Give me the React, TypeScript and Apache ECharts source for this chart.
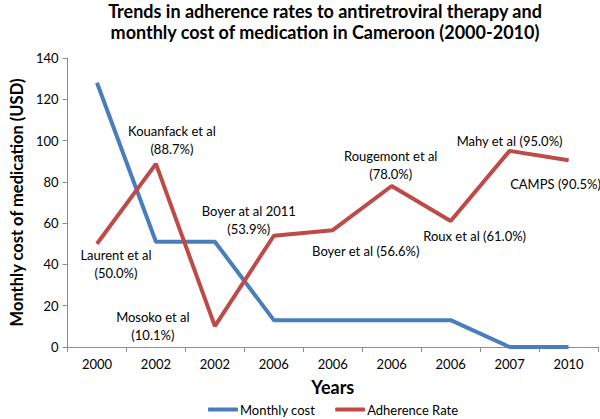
import React, { useEffect, useRef } from "react";
import * as echarts from "echarts";

const titleText =
  "Trends in adherence rates to antiretroviral therapy and\nmonthly cost of medication in Cameroon (2000-2010)";
const years = ["2000", "2002", "2002", "2006", "2006", "2006", "2006", "2007", "2010"];
const monthlyCost = [128, 51, 51, 13, 13, 13, 13, 0, 0];
const adherenceRate = [50.0, 88.7, 10.1, 53.9, 56.6, 78.0, 61.0, 95.0, 90.5];
const studyNames = [
  "Laurent et al",
  "Kouanfack et al",
  "Mosoko et al",
  "Boyer at al 2011",
  "Boyer et al",
  "Rougemont et al",
  "Roux et al",
  "Mahy et al",
  "CAMPS",
];
const twoLineLabel = [true, true, true, true, false, true, false, false, false];
const labelOffsets = [
  [19, 20],
  [16, -24],
  [-62, 0],
  [-25, -16],
  [33, 21],
  [-1, -21],
  [24, 15],
  [0, -10],
  [-13, 24],
];
const yMin = 0;
const yMax = 140;
const yInterval = 20;

const FONT = "Lato, 'Noto Sans', sans-serif";
const BLUE = "#4A7EBB";
const RED = "#BE4B48";
const AXIS_COLOR = "#8c8c8c";

export default function App() {
  const ref = useRef<HTMLDivElement>(null);

  useEffect(() => {
    document.body.style.margin = "0";
    if (!ref.current) return;
    const chart = echarts.init(ref.current, undefined, { renderer: "svg" });

    const adherenceData = adherenceRate.map((v, i) => ({
      value: v,
      label: {
        show: true,
        position: "inside",
        offset: labelOffsets[i],
        formatter: twoLineLabel[i]
          ? `${studyNames[i]}\n(${v.toFixed(1)}%)`
          : `${studyNames[i]} (${v.toFixed(1)}%)`,
      },
    }));

    chart.setOption({
      animation: false,
      backgroundColor: "#ffffff",
      textStyle: { fontFamily: FONT },
      title: {
        text: titleText,
        left: 325,
        top: 0,
        padding: [0, 0, 0, 0],
        textAlign: "center",
        textStyle: {
          fontFamily: FONT,
          fontSize: 18,
          fontWeight: "bold",
          color: "#000",
          lineHeight: 21,
        },
      },
      legend: {
        left: 203,
        top: 398,
        itemWidth: 30,
        itemHeight: 4,
        itemGap: 20,
        icon: "roundRect",
        textStyle: { fontFamily: FONT, fontSize: 13, color: "#000", padding: [0, 0, 0, -3] },
        data: ["Monthly cost", "Adherence Rate"],
      },
      grid: { left: 52, right: 2, top: 58, bottom: 72, containLabel: false },
      xAxis: {
        type: "category",
        data: years,
        boundaryGap: true,
        name: "Years",
        nameLocation: "middle",
        nameGap: 31,
        nameTextStyle: { fontFamily: FONT, fontSize: 18, fontWeight: "bold", color: "#000" },
        axisLine: { show: true, lineStyle: { color: AXIS_COLOR, width: 1 } },
        axisTick: { show: true, alignWithLabel: false, length: 5, lineStyle: { color: AXIS_COLOR } },
        axisLabel: { fontFamily: FONT, fontSize: 13, color: "#000", margin: 10, interval: 0 },
        splitLine: { show: false },
      },
      yAxis: {
        type: "value",
        min: yMin,
        max: yMax,
        interval: yInterval,
        name: "Monthly cost of medication (USD)",
        nameLocation: "middle",
        nameGap: 42,
        nameTextStyle: { fontFamily: FONT, fontSize: 16.5, fontWeight: "bold", color: "#000" },
        axisLine: { show: true, lineStyle: { color: AXIS_COLOR, width: 1 } },
        axisTick: { show: true, length: 5, lineStyle: { color: AXIS_COLOR } },
        axisLabel: { fontFamily: FONT, fontSize: 13, color: "#000", margin: 9 },
        splitLine: { show: false },
      },
      series: [
        {
          name: "Monthly cost",
          type: "line",
          data: monthlyCost,
          symbol: "none",
          color: BLUE,
          lineStyle: { color: BLUE, width: 4 },
          itemStyle: { color: BLUE },
        },
        {
          name: "Adherence Rate",
          type: "line",
          data: adherenceData,
          symbol: "circle",
          symbolSize: 1,
          showSymbol: true,
          color: RED,
          lineStyle: { color: RED, width: 4 },
          itemStyle: { color: RED },
          label: {
            show: true,
            fontFamily: FONT,
            fontSize: 13,
            color: "#000",
            lineHeight: 18,
            align: "center",
            verticalAlign: "middle",
          },
        },
      ],
    });

    return () => {
      chart.dispose();
    };
  }, []);

  return <div ref={ref} style={{ width: 600, height: 419 }} />;
}
